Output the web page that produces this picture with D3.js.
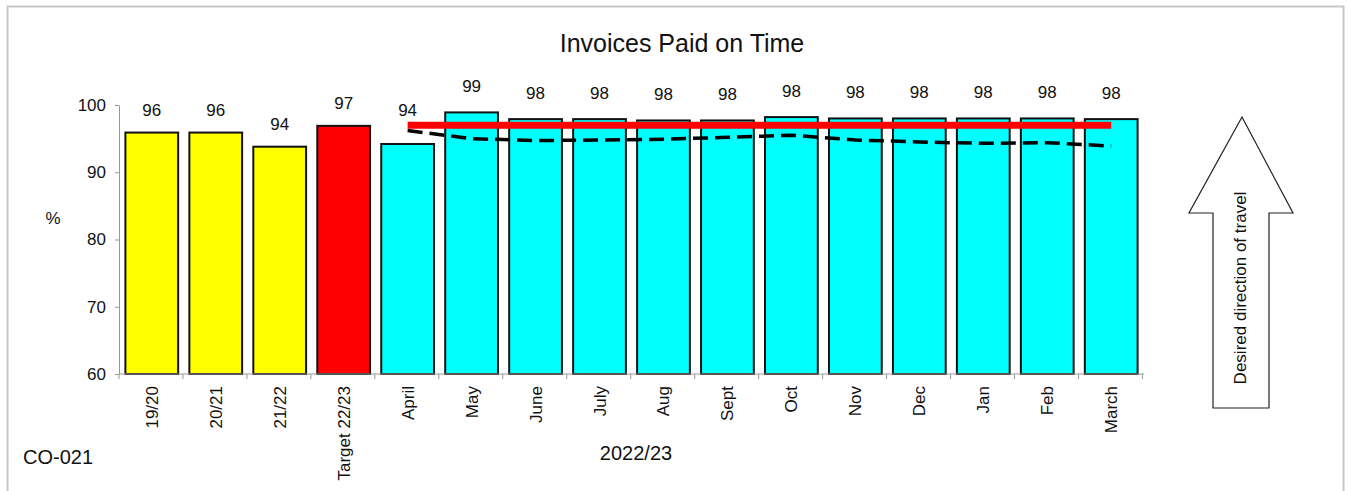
<!DOCTYPE html>
<html>
<head>
<meta charset="utf-8">
<script src="https://cdn.jsdelivr.net/npm/d3@7"></script>
<style>
  body { margin: 0; background: #fff; }
  text { font-family: "Liberation Sans", Arial, sans-serif; fill: #111; }
</style>
</head>
<body>
<svg id="chart" width="1351" height="491"></svg>
<script>
// categories and values
const categories = ["19/20", "20/21", "21/22", "Target 22/23", "April", "May", "June",
  "July", "Aug", "Sept", "Oct", "Nov", "Dec", "Jan", "Feb", "March"];
const values = [95.9, 95.9, 93.8, 96.9, 94.2, 98.9, 97.9, 97.9, 97.7, 97.7, 98.2, 98.0, 98.0, 98.0, 98.0, 97.9];
const labels = ["96", "96", "94", "97", "94", "99", "98", "98", "98", "98", "98", "98", "98", "98", "98", "98"];
const colours = ["#ffff00", "#ffff00", "#ffff00", "#ff0000", "#00ffff", "#00ffff", "#00ffff",
  "#00ffff", "#00ffff", "#00ffff", "#00ffff", "#00ffff", "#00ffff", "#00ffff", "#00ffff", "#00ffff"];
const months = categories.slice(4);
const target = months.map(() => 97);
const trend = [96.2, 95.0, 94.7, 94.8, 94.9, 95.2, 95.5, 94.8, 94.5, 94.3, 94.4, 93.9];
const yTicks = [60, 70, 80, 90, 100];

const svg = d3.select("#chart");

// outer frame
svg.append("rect")
  .attr("x", 7.5).attr("y", 6.5)
  .attr("width", 1336).attr("height", 490)
  .attr("fill", "none").attr("stroke", "#c8c8c8").attr("stroke-width", 2);

const x = d3.scaleBand().domain(categories).range([119, 1144])
  .paddingInner(0.175).paddingOuter(0.1);
const y = d3.scaleLinear().domain([60, 100]).range([374, 105]);

// title
svg.append("text").attr("x", 682).attr("y", 52)
  .attr("text-anchor", "middle").attr("font-size", 25).text("Invoices Paid on Time");

// y axis
const yAxis = svg.append("g").attr("transform", "translate(119,0)")
  .call(d3.axisLeft(y).tickValues(yTicks).tickSize(4).tickSizeOuter(0).tickPadding(9));
yAxis.select(".domain").attr("stroke", "#999");
yAxis.selectAll(".tick line").attr("stroke", "#999");
yAxis.selectAll(".tick text").attr("font-size", 17)
  .attr("font-family", "Liberation Sans, Arial, sans-serif").attr("fill", "#111");

svg.append("text").attr("x", 53).attr("y", 224)
  .attr("text-anchor", "middle").attr("font-size", 17).text("%");

// bars
svg.append("g").selectAll("rect")
  .data(categories)
  .join("rect")
  .attr("x", (d) => x(d))
  .attr("y", (d, i) => y(values[i]))
  .attr("width", x.bandwidth())
  .attr("height", (d, i) => y(60) - y(values[i]))
  .attr("fill", (d, i) => colours[i])
  .attr("stroke", "#111").attr("stroke-width", 2);

// data labels, kept clear of the target line
svg.append("g").selectAll("text")
  .data(categories)
  .join("text")
  .attr("x", (d) => x(d) + x.bandwidth() / 2)
  .attr("y", (d, i) => {
    if (i < 4) return y(values[i]) - 17;
    return Math.min(y(values[i]) - 20, y(97) - 9);
  })
  .attr("text-anchor", "middle").attr("font-size", 17)
  .text((d, i) => labels[i]);

// x axis line and ticks between categories
const xg = svg.append("g");
xg.append("line")
  .attr("x1", 119).attr("x2", 1144).attr("y1", y(60)).attr("y2", y(60))
  .attr("stroke", "#999");
xg.selectAll(".xt")
  .data(d3.range(categories.length + 1))
  .join("line")
  .attr("class", "xt")
  .attr("x1", (i) => 119 + i * x.step()).attr("x2", (i) => 119 + i * x.step())
  .attr("y1", y(60)).attr("y2", y(60) + 5)
  .attr("stroke", "#999");

// rotated category labels
xg.selectAll(".xl")
  .data(categories)
  .join("text")
  .attr("class", "xl")
  .attr("transform", (d) => `translate(${x(d) + x.bandwidth() / 2 + 6},386) rotate(-90)`)
  .attr("text-anchor", "end").attr("font-size", 17)
  .text((d) => d);

// target line
const mx = (d) => x(d) + x.bandwidth() / 2;
svg.append("path")
  .datum(months)
  .attr("fill", "none").attr("stroke", "#ff0000").attr("stroke-width", 7)
  .attr("d", d3.line().x((d) => mx(d)).y((d, i) => y(target[i])));

// dashed trend line
svg.append("path")
  .datum(months)
  .attr("fill", "none").attr("stroke", "#000").attr("stroke-width", 3.5)
  .attr("stroke-dasharray", "15,7")
  .attr("d", d3.line().x((d) => mx(d)).y((d, i) => y(trend[i])));

svg.append("text").attr("x", 636).attr("y", 460)
  .attr("text-anchor", "middle").attr("font-size", 20).text("2022/23");

svg.append("text").attr("x", 23).attr("y", 464)
  .attr("font-size", 20).text("CO-021");

// arrow "desired direction of travel"
const arrow = svg.append("g");
arrow.append("path")
  .attr("d", "M1242,117 L1293,213 L1269,213 L1269,408 L1213,408 L1213,213 L1189,213 Z")
  .attr("fill", "#fff").attr("stroke", "#222").attr("stroke-width", 1.2);
arrow.append("text")
  .attr("transform", "translate(1246,288) rotate(-90)")
  .attr("text-anchor", "middle").attr("font-size", 17)
  .text("Desired direction of travel");
</script>
</body>
</html>
